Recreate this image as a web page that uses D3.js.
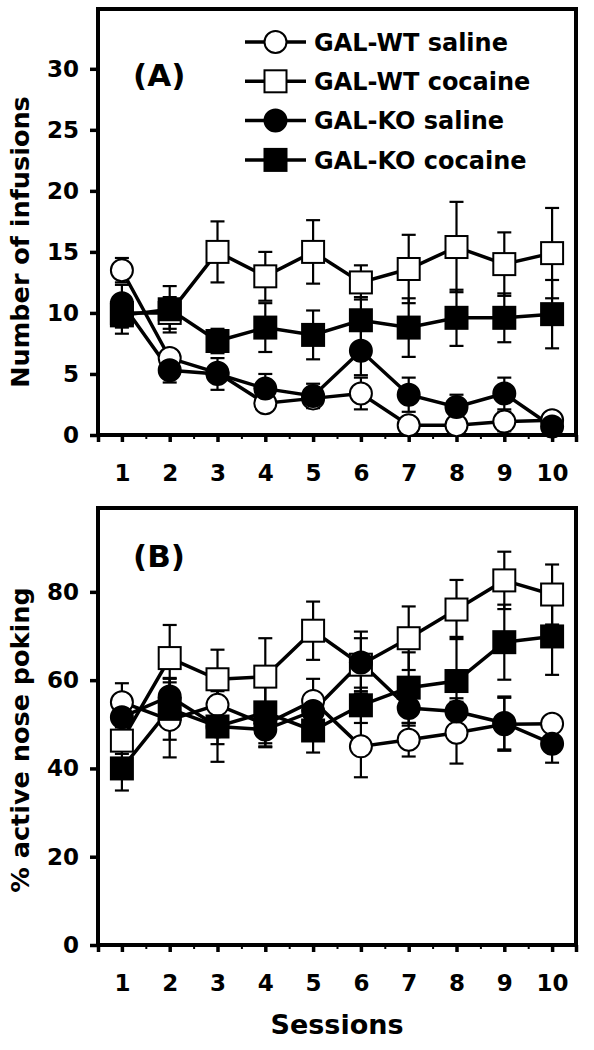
<!DOCTYPE html>
<html><head><meta charset="utf-8">
<script src="https://cdn.jsdelivr.net/npm/d3@7"></script>
<style>body{margin:0;background:#fff}svg{display:block}text{font-family:"DejaVu Sans",Verdana,sans-serif;font-weight:bold;fill:#000}</style>
</head><body><div id="chart"></div>
<script>
const sessions = [1,2,3,4,5,6,7,8,9,10];
const seriesNames = ["GAL-WT saline","GAL-WT cocaine","GAL-KO saline","GAL-KO cocaine"];
const seriesShapes = ["circle","square","circle","square"];
const seriesFills = ["#fff","#fff","#000","#000"];

// Panel A: number of infusions (mean, sem)
const infWTsal = [13.5,6.3,5.1,2.6,3.0,3.4,0.8,0.8,1.1,1.2];
const infWTsalErr = [1.0,0.6,0.5,0.4,0.4,1.3,0.3,0.3,0.8,0.3];
const infWTcoc = [10.0,10.0,15.0,13.0,15.0,12.5,13.6,15.4,14.0,14.9];
const infWTcocErr = [1.2,1.3,2.5,2.0,2.6,1.4,2.8,3.7,2.6,3.7];
const infKOsal = [10.8,5.3,5.0,3.8,3.2,6.9,3.3,2.3,3.4,0.7];
const infKOsalErr = [1.5,1.0,1.3,1.2,1.0,2.0,1.4,1.0,1.3,0.3];
const infKOcoc = [9.8,10.3,7.7,8.8,8.2,9.4,8.8,9.6,9.6,9.9];
const infKOcocErr = [1.5,1.9,1.0,2.0,2.0,1.9,2.4,2.3,2.0,2.8];

// Panel B: % active nose poking (mean, sem)
const pokeWTsal = [55.0,51.0,54.4,50.0,55.3,45.0,46.5,48.1,50.0,50.1];
const pokeWTsalErr = [4.3,8.5,4.5,5.0,5.0,7.0,3.8,7.0,6.0,0.5];
const pokeWTcoc = [46.3,65.0,60.2,60.8,71.2,63.5,69.5,76.0,82.6,79.4];
const pokeWTcocErr = [3.0,7.5,6.7,8.7,6.6,6.0,7.2,6.7,6.5,6.8];
const pokeKOsal = [51.6,56.3,49.5,48.8,53.0,64.0,53.7,52.9,50.3,45.6];
const pokeKOsalErr = [4.0,4.0,4.0,4.0,3.0,7.0,4.0,3.0,6.0,4.3];
const pokeKOcoc = [40.0,53.5,49.5,52.7,48.6,54.3,58.3,59.8,68.6,69.9];
const pokeKOcocErr = [5.0,7.0,8.0,7.0,5.0,4.0,8.0,10.0,8.5,8.7];

const infTicks = [0,5,10,15,20,25,30];
const pokeTicks = [0,20,40,60,80];
const halfTicks = [1.5,2.5,3.5,4.5,5.5,6.5,7.5,8.5,9.5];

const W = 594, H = 1050;
const svg = d3.select("#chart").append("svg").attr("width", W).attr("height", H);

const x = d3.scaleLinear().domain([0.5, 10.5]).range([98, 576]);

function styleText(sel, size) {
  sel.selectAll("text").style("font-size", size).style("font-family", "'DejaVu Sans'").style("font-weight", "bold");
}

function panel(top, bottom, yMax, ticks, means, errs, label, labelY, title, titleY, legend) {
  const y = d3.scaleLinear().domain([0, yMax]).range([bottom, top]);
  const g = svg.append("g");
  // y axis
  const ya = g.append("g").attr("transform", `translate(${x.range()[0]},0)`)
    .call(d3.axisLeft(y).tickValues(ticks).tickSize(8).tickPadding(11).tickFormat(d3.format("d")));
  ya.select(".domain").remove();
  ya.selectAll("line").attr("stroke", "#000").attr("stroke-width", 3.5);
  styleText(ya, "23px");
  // x axis
  const xa = g.append("g").attr("transform", `translate(0,${bottom})`)
    .call(d3.axisBottom(x).tickValues([0.5].concat(sessions, [10.5])).tickSize(7).tickPadding(23)
      .tickFormat(d => Number.isInteger(d) ? d : ""));
  xa.select(".domain").remove();
  xa.selectAll("line").attr("stroke", "#000").attr("stroke-width", 3.5);
  styleText(xa, "23px");
  const xm = g.append("g").attr("transform", `translate(0,${bottom})`)
    .call(d3.axisBottom(x).tickValues(halfTicks).tickSize(4).tickFormat(""));
  xm.select(".domain").remove();
  xm.selectAll("line").attr("stroke", "#000").attr("stroke-width", 2);
  // frame
  g.append("rect").attr("x", x.range()[0]).attr("y", top)
    .attr("width", x.range()[1] - x.range()[0]).attr("height", bottom - top)
    .attr("fill", "none").attr("stroke", "#000").attr("stroke-width", 4);
  // error bars
  means.forEach((m, si) => {
    const eg = g.append("g");
    m.forEach((v, i) => {
      const cx = x(sessions[i]);
      const lo = y(v - errs[si][i]), hi = y(v + errs[si][i]);
      eg.append("line").attr("x1", cx).attr("x2", cx).attr("y1", lo).attr("y2", hi).attr("stroke", "#000").attr("stroke-width", 2.2);
      [lo, hi].forEach(yy => eg.append("line").attr("x1", cx - 7).attr("x2", cx + 7).attr("y1", yy).attr("y2", yy).attr("stroke", "#000").attr("stroke-width", 2.2));
    });
  });
  // lines
  const line = d3.line().x((d, i) => x(sessions[i])).y(d => y(d));
  means.forEach(m => {
    g.append("path").datum(m).attr("d", line).attr("fill", "none").attr("stroke", "#000").attr("stroke-width", 3.5);
  });
  // markers
  means.forEach((m, si) => {
    m.forEach((v, i) => drawMarker(g, x(sessions[i]), y(v), si));
  });
  // panel label
  g.append("text").attr("x", 133).attr("y", labelY).style("font-size", "31px").text(label);
  // y title
  g.append("text").attr("transform", `translate(29,${titleY}) rotate(-90)`).attr("text-anchor", "middle")
    .style("font-size", "25.5px").text(title);
  if (legend) {
    seriesNames.forEach((n, si) => {
      const ly = 42 + si * 39.3;
      g.append("line").attr("x1", 245).attr("x2", 306).attr("y1", ly).attr("y2", ly).attr("stroke", "#000").attr("stroke-width", 3.5);
      drawMarker(g, 275.5, ly, si);
      g.append("text").attr("x", 314).attr("y", ly).attr("dy", "0.36em").style("font-size", "24px").text(n);
    });
  }
}

function drawMarker(g, cx, cy, si) {
  if (seriesShapes[si] === "circle") {
    g.append("circle").attr("cx", cx).attr("cy", cy).attr("r", 11)
      .attr("fill", seriesFills[si]).attr("stroke", "#000").attr("stroke-width", 2);
  } else {
    g.append("rect").attr("x", cx - 11).attr("y", cy - 11).attr("width", 22).attr("height", 22)
      .attr("fill", seriesFills[si]).attr("stroke", "#000").attr("stroke-width", 2);
  }
}

panel(9, 435, 34.9, infTicks,
  [infWTsal, infWTcoc, infKOsal, infKOcoc],
  [infWTsalErr, infWTcocErr, infKOsalErr, infKOcocErr],
  "(A)", 86, "Number of infusions", 242, true);

panel(508, 945, 99, pokeTicks,
  [pokeWTsal, pokeWTcoc, pokeKOsal, pokeKOcoc],
  [pokeWTsalErr, pokeWTcocErr, pokeKOsalErr, pokeKOcocErr],
  "(B)", 567, "% active nose poking", 740, false);

svg.append("text").attr("x", 337).attr("y", 1034).attr("text-anchor", "middle").style("font-size", "27px").text("Sessions");
</script></body></html>
